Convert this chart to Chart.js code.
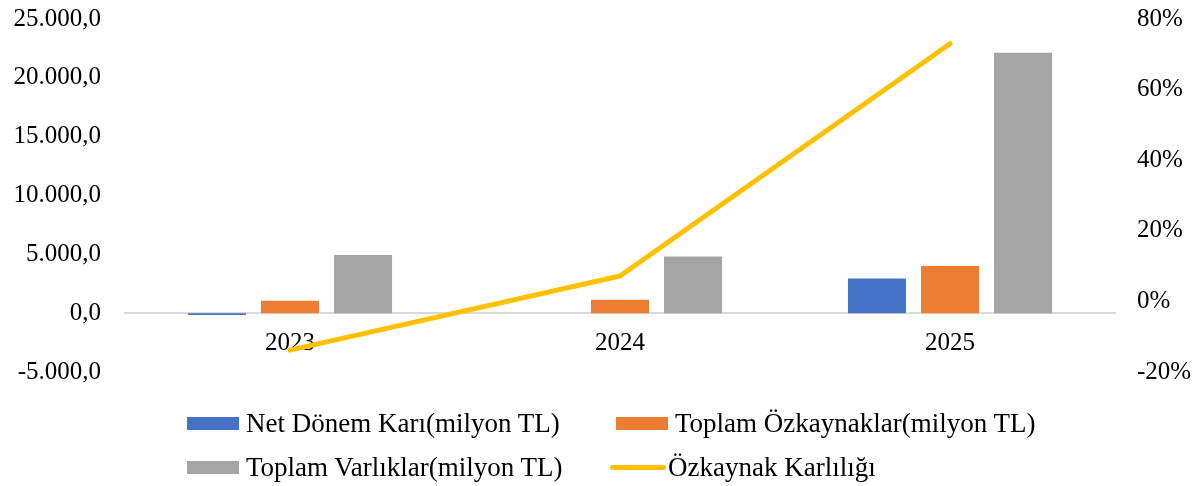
<!DOCTYPE html>
<html>
<head>
<meta charset="utf-8">
<script src="https://cdn.jsdelivr.net/npm/chart.js@4.4.1/dist/chart.umd.min.js"></script>
<style>
  html, body { margin: 0; padding: 0; background: #fff; }
  #wrap { position: relative; width: 1203px; height: 486px; overflow: hidden; }
  #box { position: absolute; left: 0; top: -20px; width: 1203px; height: 431px; }
  #legend { position: absolute; left: 0; top: 400px; width: 1203px; height: 86px;
            font-family: 'Liberation Serif', 'Times New Roman', serif; font-size: 27px; color: #000; }
  .item { position: absolute; display: flex; align-items: center; white-space: nowrap; }
  .swatch { width: 52px; height: 13px; margin-right: 7px; }
  .swatch.line { height: 5px; border-radius: 3px; margin-right: 2px; width: 56px; }
</style>
</head>
<body>
<div id="wrap">
  <div id="box"><canvas id="c"></canvas></div>
  <div id="legend"></div>
</div>
<script>
// data
var years = ['2023', '2024', '2025'];
var netKar = [-150, 0, 2950];         // Net Dönem Karı (milyon TL)
var ozkaynak = [1045, 1130, 4010];    // Toplam Özkaynaklar (milyon TL)
var varlik = [4950, 4810, 22130];     // Toplam Varlıklar (milyon TL)
var karlilik = [-13.8, 7.2, 73.0];    // Özkaynak Karlılığı (%)

var leftTicks = [-5000, 0, 5000, 10000, 15000, 20000, 25000];
var rightTicks = [-20, 0, 20, 40, 60, 80];

var FONT = "'Liberation Serif', 'Times New Roman', serif";

function trNumber(v) {
    var neg = v < 0;
    var s = Math.abs(Math.round(v)).toString();
    s = s.replace(/\B(?=(\d{3})+(?!\d))/g, '.');
    return (neg ? '-' : '') + s + ',0';
}

var datasets = [
    { type: 'bar', label: 'Net Dönem Karı(milyon TL)', data: netKar, backgroundColor: '#4472C4', yAxisID: 'y', order: 1 },
    { type: 'bar', label: 'Toplam Özkaynaklar(milyon TL)', data: ozkaynak, backgroundColor: '#ED7D31', yAxisID: 'y', order: 1 },
    { type: 'bar', label: 'Toplam Varlıklar(milyon TL)', data: varlik, backgroundColor: '#A5A5A5', yAxisID: 'y', order: 1 },
    { type: 'line', label: 'Özkaynak Karlılığı', data: karlilik, borderColor: '#FFC000', backgroundColor: '#FFC000',
      borderWidth: 5, pointRadius: 0, tension: 0, borderCapStyle: 'round', borderJoinStyle: 'round',
      yAxisID: 'y1', order: 0 }
];

var chart = new Chart(document.getElementById('c'), {
    data: { labels: years, datasets: datasets },
    options: {
        responsive: true,
        maintainAspectRatio: false,
        animation: false,
        datasets: { bar: { categoryPercentage: 0.664, barPercentage: 0.795 } },
        layout: { padding: 0 },
        plugins: { legend: { display: false }, tooltip: { enabled: false } },
        scales: {
            x: {
                type: 'category',
                position: { y: 0 },
                grid: { display: false },
                border: { display: true, color: '#d9d9d9', width: 2 },
                ticks: { font: { family: FONT, size: 25 }, color: '#000', padding: 7 }
            },
            y: {
                position: 'left',
                min: -5000, max: 25000,
                grid: { display: false, drawTicks: false },
                border: { display: false },
                afterBuildTicks: function (s) { s.ticks = leftTicks.map(function (v) { return { value: v }; }); },
                ticks: { font: { family: FONT, size: 25 }, color: '#000', padding: 24,
                         callback: function (v) { return trNumber(v); } },
                afterFit: function (s) { s.width = 125; }
            },
            y1: {
                position: 'right',
                min: -20, max: 80,
                grid: { display: false, drawTicks: false },
                border: { display: false },
                afterBuildTicks: function (s) { s.ticks = rightTicks.map(function (v) { return { value: v }; }); },
                ticks: { font: { family: FONT, size: 25 }, color: '#000', padding: 22,
                         callback: function (v) { return v + '%'; } },
                afterFit: function (s) { s.width = 88; }
            }
        }
    }
});

// legend in two columns, like the original
var legendPos = [[187, 423], [616, 423], [187, 467], [610, 467]];
var legendEl = document.getElementById('legend');
chart.data.datasets.forEach(function (ds, i) {
    var item = document.createElement('div');
    item.className = 'item';
    item.style.left = legendPos[i][0] + 'px';
    item.style.top = (legendPos[i][1] - 400 - 15) + 'px';
    item.style.height = '30px';
    var sw = document.createElement('span');
    sw.className = 'swatch' + (ds.type === 'line' ? ' line' : '');
    sw.style.background = ds.type === 'line' ? ds.borderColor : ds.backgroundColor;
    var txt = document.createElement('span');
    txt.textContent = ds.label;
    item.appendChild(sw);
    item.appendChild(txt);
    legendEl.appendChild(item);
});
</script>
</body>
</html>
